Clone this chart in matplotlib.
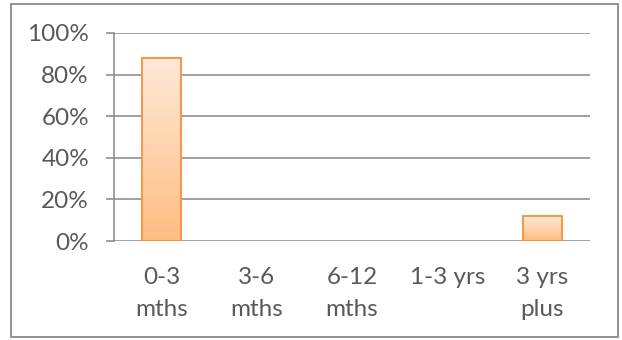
import numpy as np
import matplotlib
matplotlib.use("Agg")
import matplotlib.pyplot as plt
from matplotlib.patches import Rectangle
from matplotlib.colors import LinearSegmentedColormap
from matplotlib.ticker import PercentFormatter

# share of records by age band
categories = ["0-3\nmths", "3-6\nmths", "6-12\nmths", "1-3 yrs", "3 yrs\nplus"]
shares = [0.88, 0.0, 0.0, 0.0, 0.12]
y_ticks = [0.0, 0.2, 0.4, 0.6, 0.8, 1.0]

GRID = "#868686"
TEXT = "#595959"
EDGE = "#F79646"

plt.rcParams["font.family"] = ["Lato", "DejaVu Sans"]

fig = plt.figure(figsize=(6.22, 3.40), dpi=100)
ax = fig.add_axes([114 / 622, 99 / 340, 476 / 622, 208 / 340])

x = np.arange(len(categories))
bars = ax.bar(x, shares, width=0.41, color="none", edgecolor=EDGE,
              linewidth=1.4, zorder=3)

# vertical gradient fill, light at the top of each bar
grad = LinearSegmentedColormap.from_list("peach", ["#FFBD82", "#FEE9D8"])
for b in bars:
    if b.get_height() <= 0:
        b.set_visible(False)
        continue
    x0, w, h = b.get_x(), b.get_width(), b.get_height()
    img = ax.imshow(np.linspace(0, 1, 100).reshape(-1, 1), cmap=grad,
                    origin="lower", aspect="auto",
                    extent=[x0, x0 + w, 0, h], zorder=2)
    img.set_clip_path(b)

ax.set_xlim(-0.5, len(categories) - 0.5)
ax.set_ylim(0, 1)
ax.set_yticks(y_ticks)
ax.yaxis.set_major_formatter(PercentFormatter(1.0, decimals=0))
ax.set_xticks(x)
ax.set_xticklabels(categories, linespacing=1.65)

ax.grid(axis="y", color=GRID, linewidth=1.1, zorder=1)
for side in ["top", "right", "bottom"]:
    ax.spines[side].set_visible(False)
ax.spines["left"].set_color(GRID)
ax.spines["left"].set_linewidth(1.1)
ax.spines["left"].set_zorder(4)

ax.tick_params(axis="y", length=6, width=1.1, color=GRID, pad=12,
               labelsize=17.5, labelcolor=TEXT)
ax.tick_params(axis="x", length=0, pad=19, labelsize=17.5, labelcolor=TEXT)

# chart area border
fig.patches.append(Rectangle((11 / 622, 3 / 340), 607 / 622, 333 / 340,
                             transform=fig.transFigure, fill=False,
                             edgecolor="#8A8A8A", linewidth=1.3))

fig.savefig("out.png", dpi=100)
